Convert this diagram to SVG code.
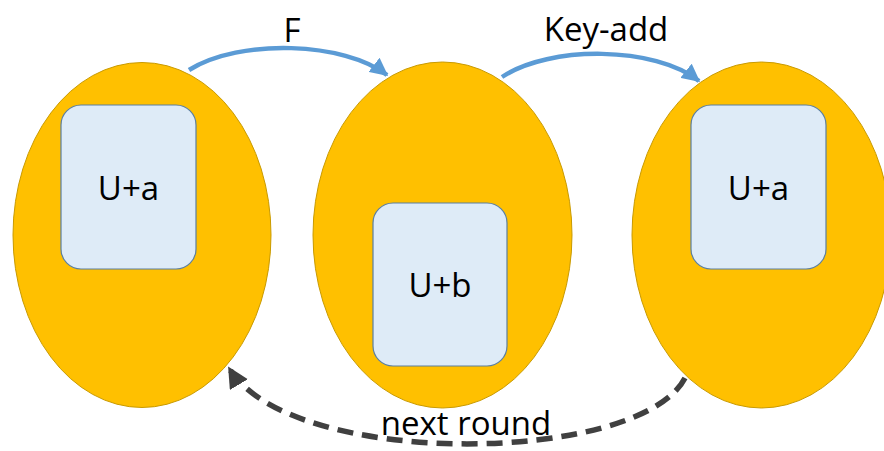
<svg xmlns="http://www.w3.org/2000/svg" width="884" height="451" viewBox="0 0 884 451">
  <style>
    .state { fill: #FFC000; stroke: #C99A00; stroke-width: 1; }
    .key { fill: #DEEBF7; stroke: #5B7FA0; stroke-width: 1.2; }
    .label { font-family: "Open Sans", "Liberation Sans", sans-serif; font-size: 33px; fill: #000; text-anchor: middle; }
    .flow { fill: none; stroke: #5B9BD5; stroke-width: 4.5; }
    .loop { fill: none; stroke: #404040; stroke-width: 5.5; stroke-dasharray: 16 9; }
  </style>
  <defs>
    <marker id="blueHead" viewBox="0 0 12 12" refX="11" refY="6" markerWidth="18" markerHeight="18" markerUnits="userSpaceOnUse" orient="auto">
      <path d="M0,0 L12,6 L0,12 Z" fill="#5B9BD5"/>
    </marker>
    <marker id="greyHead" viewBox="0 0 12 12" refX="11" refY="6" markerWidth="21" markerHeight="21" markerUnits="userSpaceOnUse" orient="auto">
      <path d="M0,0 L12,6 L0,12 Z" fill="#404040"/>
    </marker>
  </defs>

  <g id="state-left">
    <ellipse class="state" cx="142" cy="235" rx="129" ry="172.5"/>
    <rect class="key" x="61" y="105" width="135" height="164" rx="20"/>
    <text class="label" x="128.5" y="200">U+a</text>
  </g>

  <g id="state-middle">
    <ellipse class="state" cx="442.5" cy="235" rx="129.5" ry="173"/>
    <rect class="key" x="373" y="203" width="134" height="163" rx="20"/>
    <text class="label" x="440" y="297">U+b</text>
  </g>

  <g id="state-right">
    <ellipse class="state" cx="761.5" cy="235" rx="129.5" ry="173"/>
    <rect class="key" x="691" y="105" width="135" height="164" rx="20"/>
    <text class="label" x="758.5" y="200">U+a</text>
  </g>

  <g id="connectors">
    <path class="flow" d="M189,70 C240,38 345,42 387,75" marker-end="url(#blueHead)"/>
    <path class="flow" d="M502,77 C550,45 655,46 699,81" marker-end="url(#blueHead)"/>
    <path class="loop" d="M685,378 C640,465 290,470 229,368" marker-end="url(#greyHead)"/>
  </g>

  <g id="labels">
    <text class="label" x="292" y="42">F</text>
    <text class="label" x="606" y="41">Key-add</text>
    <text class="label" x="466" y="435">next round</text>
  </g>
</svg>
